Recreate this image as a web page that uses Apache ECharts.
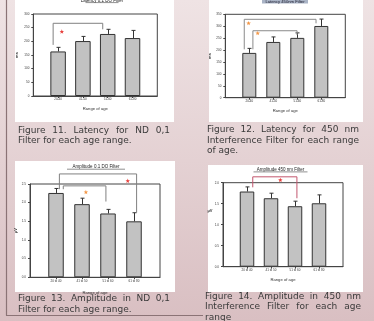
<!DOCTYPE html>
<html><head><meta charset="utf-8">
<script src="https://cdn.jsdelivr.net/npm/echarts@6/dist/echarts.min.js"></script>
<style>html,body{margin:0;padding:0;background:#fff}#c{width:374px;height:321px}</style>
</head><body><div id="c"></div>
<script>
// ---------- data ----------
const agesShort = ['20-40', '41-50', '51-60', '61-80'];
const agesLong = ['20 to 40', '41 to 50', '51 to 60', '61 to 80'];

const latNDTicks = [0, 50, 100, 150, 200, 250, 300];
const latND = [163, 201, 227, 212];
const latNDErr = [15, 17, 17, 28];

const lat450Ticks = [0, 50, 100, 150, 200, 250, 300, 350];
const lat450 = [188, 234, 251, 301];
const lat450Err = [19, 21, 21, 29];

const ampNDTicks = [0, 0.5, 1.0, 1.5, 2.0, 2.5];
const ampND = [2.26, 1.96, 1.71, 1.50];
const ampNDErr = [0.12, 0.16, 0.11, 0.23];

const amp450Ticks = [0, 0.5, 1.0, 1.5, 2.0];
const amp450 = [1.79, 1.63, 1.44, 1.51];
const amp450Err = [0.11, 0.12, 0.12, 0.20];

// significance brackets: [xStart, yStart, xEnd, yEnd, yTop] (axis units, categories at 1..4)
const latNDBrackets = [[0.8, 187, 2.8, 244, 266]];
const lat450Brackets = [[0.79, 203, 3.78, 312, 329], [1.15, 203, 2.99, 263, 281]];
const ampNDBrackets = [[1.13, 2.36, 4.1, 1.73, 2.77], [1.28, 2.36, 2.92, 2.03, 2.45]];
const amp450Brackets = [[1.24, 1.89, 3.08, 1.63, 2.14]];

// significance stars: [x, y]
const latNDStars = [[1.15, 235]];
const lat450Stars = [[0.97, 312], [1.35, 270]];
const ampNDStars = [[2.15, 2.28], [3.76, 2.58]];
const amp450Stars = [[2.39, 2.06]];

const titles = ['Latency 0,1 DO Filter', 'Latency 450nm Filter', 'Amplitude 0.1 DO Filter', 'Amplitude 450 nm Filter'];
const captions = [
  ['Figure 11. Latency for ND 0,1', 'Filter for each age range.'],
  ['Figure 12. Latency for 450 nm', 'Interference Filter for each range', 'of age.'],
  ['Figure 13. Amplitude in ND 0,1', 'Filter for each age range.'],
  ['Figure 14. Amplitude in 450 nm', 'Interference Filter for each age', 'range']
];

// ---------- layout / style ----------
const RED = '#e8403c', ORANGE = '#f39645';
const panels = [
  {grid: {left: 33.3, top: 14, width: 124, height: 82}, cats: agesShort, ticks: latNDTicks, vals: latND, errs: latNDErr,
   br: latNDBrackets, brColor: '#808080', stars: latNDStars, starColors: [RED], yName: 'ms', yGap: 14, xGap: 11, barW: 15.5, dec: 0},
  {grid: {left: 225.3, top: 14.3, width: 120, height: 83.4}, cats: agesShort, ticks: lat450Ticks, vals: lat450, errs: lat450Err,
   br: lat450Brackets, brColor: '#8a8a8a', stars: lat450Stars, starColors: [ORANGE, ORANGE], yName: 'ms', yGap: 13, xGap: 11, barW: 14, dec: 0},
  {grid: {left: 30, top: 184, width: 130, height: 93.3}, cats: agesLong, ticks: ampNDTicks, vals: ampND, errs: ampNDErr,
   br: ampNDBrackets, brColor: '#808080', stars: ampNDStars, starColors: [ORANGE, RED], yName: 'µV', yGap: 11, xGap: 13.5, barW: 15.5, dec: 1},
  {grid: {left: 223, top: 182.7, width: 120, height: 84}, cats: agesLong, ticks: amp450Ticks, vals: amp450, errs: amp450Err,
   br: amp450Brackets, brColor: '#c2566e', stars: amp450Stars, starColors: [RED], yName: '', yGap: 13, xGap: 11, barW: 14.5, dec: 1}
];

const AX = '#444', TXT = '#333';
const grids = [], xAxes = [], yAxes = [], series = [];
panels.forEach((p, i) => {
  grids.push(Object.assign({show: true, borderColor: AX, borderWidth: 1, backgroundColor: 'transparent'}, p.grid));
  const catIdx = p.cats.map((c, k) => k + 1);
  xAxes.push({
    gridIndex: i, type: 'value', min: 0, max: p.cats.length + 1, interval: 1,
    splitLine: {show: false},
    axisLine: {lineStyle: {color: AX, width: 1}},
    axisTick: {length: 2, lineStyle: {color: AX}, customValues: catIdx},
    axisLabel: {customValues: catIdx, fontSize: 3, margin: 2, color: TXT, fontFamily: 'Liberation Sans',
      formatter: v => p.cats[Math.round(v) - 1] || ''},
    name: 'Range of age', nameLocation: 'middle', nameGap: p.xGap,
    nameTextStyle: {fontSize: 4.2, color: TXT, fontFamily: 'Liberation Sans'}
  });
  const t = p.ticks;
  yAxes.push({
    gridIndex: i, type: 'value', min: t[0], max: t[t.length - 1], interval: t[1] - t[0],
    splitLine: {show: false},
    axisLine: {show: true, lineStyle: {color: AX, width: 1}},
    axisTick: {show: true, length: 2, lineStyle: {color: AX}},
    axisLabel: {fontSize: 3, margin: 4, color: TXT, fontFamily: 'Liberation Sans', formatter: v => v.toFixed(p.dec)},
    name: p.yName, nameLocation: 'middle', nameGap: p.yGap, nameRotate: 90,
    nameTextStyle: {fontSize: 4, color: TXT, fontFamily: 'Liberation Sans', fontWeight: 'bold'}
  });
  series.push({
    type: 'bar', xAxisIndex: i, yAxisIndex: i, barWidth: p.barW,
    data: p.vals.map((v, k) => [k + 1, v]),
    itemStyle: {color: '#c2c2c2', borderColor: '#333', borderWidth: 1}
  });
  series.push({
    type: 'custom', xAxisIndex: i, yAxisIndex: i, z: 4, clip: false,
    data: p.vals.map((v, k) => [k + 1, v, v + p.errs[k]]),
    renderItem: (params, api) => {
      const x = api.value(0);
      const lo = api.coord([x, api.value(1)]), hi = api.coord([x, api.value(2)]);
      const px = Math.round(lo[0]) + 0.5;
      return {type: 'group', children: [
        {type: 'line', shape: {x1: px, y1: lo[1], x2: px, y2: hi[1]}, style: {stroke: '#333', lineWidth: 1}},
        {type: 'line', shape: {x1: px - 2, y1: hi[1], x2: px + 2, y2: hi[1]}, style: {stroke: '#333', lineWidth: 1}}
      ]};
    }
  });
  series.push({
    type: 'custom', xAxisIndex: i, yAxisIndex: i, z: 5, clip: false,
    data: p.br,
    renderItem: (params, api) => {
      const a = api.coord([api.value(0), api.value(1)]);
      const t1 = api.coord([api.value(0), api.value(4)]);
      const t2 = api.coord([api.value(2), api.value(4)]);
      const b = api.coord([api.value(2), api.value(3)]);
      return {type: 'polyline', shape: {points: [a, t1, t2, b]}, style: {stroke: p.brColor, lineWidth: 1, fill: null}};
    }
  });
  series.push({
    type: 'custom', xAxisIndex: i, yAxisIndex: i, z: 6, clip: false,
    data: p.stars,
    renderItem: (params, api) => {
      const c = api.coord([api.value(0), api.value(1)]);
      const pts = [];
      for (let k = 0; k < 10; k++) {
        const r = k % 2 ? 1.0 : 2.4, ang = -Math.PI / 2 + k * Math.PI / 5;
        pts.push([c[0] + r * Math.cos(ang), c[1] + r * Math.sin(ang)]);
      }
      return {type: 'polygon', shape: {points: pts}, style: {fill: p.starColors[params.dataIndex] || RED}};
    }
  });
});

// ---------- decorations (boxes, titles, captions) ----------
const mctx = document.createElement('canvas').getContext('2d');
const CAP_FONT = 9, CAP_FAMILY = 'DejaVu Sans';
function wordW(w) { mctx.font = CAP_FONT + 'px "' + CAP_FAMILY + '"'; return mctx.measureText(w).width; }
function caption(lines, x, width, ys) {
  const out = [];
  lines.forEach((line, li) => {
    const justify = li < lines.length - 1;
    if (!justify) {
      out.push({type: 'text', x: x, y: ys[li], z: 20, style: {text: line, fontSize: CAP_FONT, fontFamily: CAP_FAMILY, fill: '#3a3a3a', verticalAlign: 'middle', align: 'left'}});
      return;
    }
    const words = line.split(' ');
    const ws = words.map(wordW);
    const total = ws.reduce((s, v) => s + v, 0);
    const gap = (width - total) / (words.length - 1);
    let cx = x;
    words.forEach((w, k) => {
      out.push({type: 'text', x: cx, y: ys[li], z: 20, style: {text: w, fontSize: CAP_FONT, fontFamily: CAP_FAMILY, fill: '#3a3a3a', verticalAlign: 'middle', align: 'left'}});
      cx += ws[k] + gap;
    });
  });
  return out;
}
function title(text, cx, cy, ulY, halfW) {
  return [
    {type: 'text', x: cx, y: cy, z: 20, style: {text: text, fontSize: 4.5, fontFamily: 'Liberation Sans', fill: '#222', align: 'center', verticalAlign: 'middle'}},
    {type: 'line', z: 20, shape: {x1: cx - halfW, y1: ulY, x2: cx + halfW, y2: ulY}, style: {stroke: '#444', lineWidth: 0.6}}
  ];
}

const elements = [
  {type: 'rect', z: -10, shape: {x: 15, y: 0, width: 159, height: 122}, style: {fill: '#fff'}},
  {type: 'rect', z: -10, shape: {x: 209, y: 0, width: 154, height: 122}, style: {fill: '#fff'}},
  {type: 'rect', z: -10, shape: {x: 15, y: 161, width: 160, height: 131}, style: {fill: '#fff'}},
  {type: 'rect', z: -10, shape: {x: 208, y: 165, width: 155, height: 127}, style: {fill: '#fff'}},
  {type: 'rect', z: -9, shape: {x: 262, y: 0, width: 46, height: 3.6}, style: {fill: '#aab4c6'}},
  {type: 'line', z: 20, shape: {x1: 6.5, y1: 0, x2: 6.5, y2: 315.5}, style: {stroke: '#8b7376', lineWidth: 1.2}},
  {type: 'line', z: 20, shape: {x1: 6, y1: 315.5, x2: 203, y2: 315.5}, style: {stroke: '#8b7376', lineWidth: 1.2}},
  {type: 'text', x: 210, y: 211, z: 20, style: {text: 'µV', fontSize: 4, fontWeight: 'bold', fontFamily: 'Liberation Sans', fill: TXT, align: 'center', verticalAlign: 'middle'}}
]
  .concat(title(titles[0], 102, 0.6, 2.6, 16.5))
  .concat([{type: 'text', x: 285, y: 1.6, z: 20, style: {text: titles[1], fontSize: 4.2, fontFamily: 'Liberation Sans', fill: '#223', align: 'center', verticalAlign: 'middle'}}])
  .concat(title(titles[2], 96, 167, 169.2, 29))
  .concat(title(titles[3], 280.5, 169.7, 171.9, 27))
  .concat(caption(captions[0], 18, 152, [130.5, 140.5]))
  .concat(caption(captions[1], 207, 152, [130, 140.5, 150.5]))
  .concat(caption(captions[2], 18, 152, [299, 309.5]))
  .concat(caption(captions[3], 205, 156, [296.5, 307, 317.5]));

const chart = echarts.init(document.getElementById('c'), null, {renderer: 'canvas'});
chart.setOption({
  animation: false,
  backgroundColor: {type: 'linear', x: 0, y: 0, x2: 0, y2: 1, colorStops: [{offset: 0, color: '#efe3e4'}, {offset: 1, color: '#d9bfc2'}]},
  grid: grids, xAxis: xAxes, yAxis: yAxes, series: series,
  graphic: {elements: elements}
});
</script></body></html>
